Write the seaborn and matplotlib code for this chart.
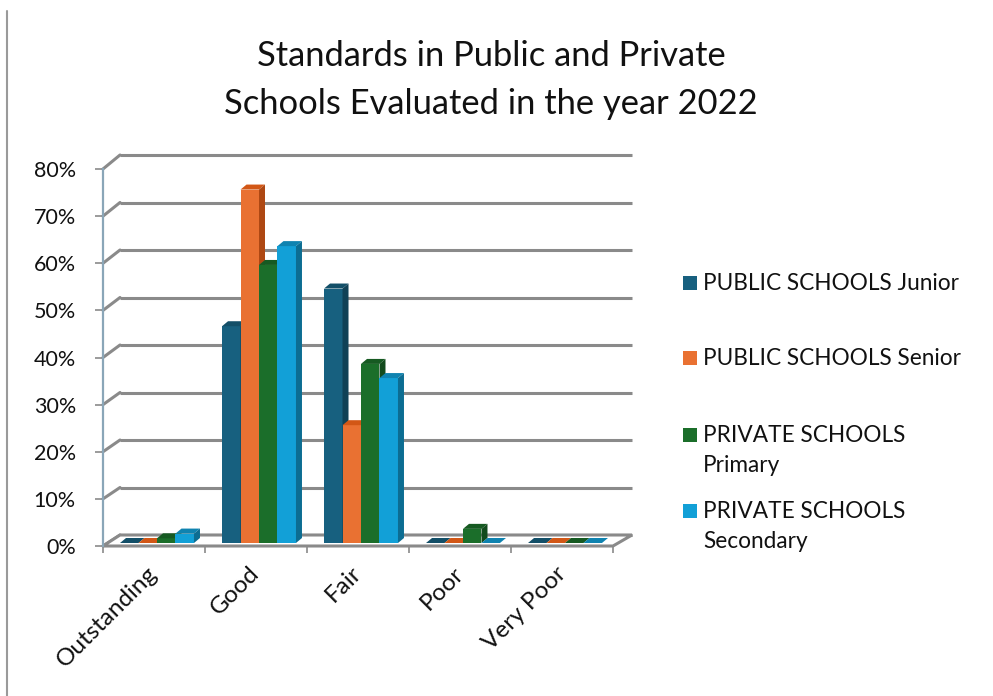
import colorsys

import matplotlib
matplotlib.use("Agg")
import matplotlib.pyplot as plt
import matplotlib.transforms as mtransforms
import numpy as np
import pandas as pd
import seaborn as sns
from matplotlib.colors import to_rgb
from matplotlib.lines import Line2D
from matplotlib.patches import ConnectionPatch, Polygon, Rectangle

# ---- data -----------------------------------------------------------------
categories = ["Outstanding", "Good", "Fair", "Poor", "Very Poor"]
series_names = [
    "PUBLIC SCHOOLS Junior",
    "PUBLIC SCHOOLS Senior",
    "PRIVATE SCHOOLS Primary",
    "PRIVATE SCHOOLS Secondary",
]
legend_labels = [
    "PUBLIC SCHOOLS Junior",
    "PUBLIC SCHOOLS Senior",
    "PRIVATE SCHOOLS\nPrimary",
    "PRIVATE SCHOOLS\nSecondary",
]
public_junior = [0, 46, 54, 0, 0]
public_senior = [0, 75, 25, 0, 0]
private_primary = [1, 59, 38, 3, 0]
private_secondary = [2, 63, 35, 0, 0]
y_ticks = [0, 10, 20, 30, 40, 50, 60, 70, 80]
title = "Standards in Public and Private\nSchools Evaluated in the year 2022"

palette = ["#17607f", "#e97132", "#1b6e2a", "#12a0d7"]

df = pd.DataFrame({
    "category": categories * 4,
    "series": np.repeat(series_names, len(categories)),
    "value": public_junior + public_senior + private_primary + private_secondary,
})

# ---- figure setup -----------------------------------------------------------
sns.set_theme(style="white")
plt.rcParams["font.family"] = ["Lato", "DejaVu Sans"]

W, H, DPI = 993, 696, 100
fig = plt.figure(figsize=(W / DPI, H / DPI), dpi=DPI)
fig.patch.set_facecolor("white")

GRID = "#8a8a8a"
TXT = "#111111"


def box(left, right, bottom, top):
    """Axes rectangle from pixel edges measured from the top-left corner."""
    return [left / W, 1 - bottom / H, (right - left) / W, (bottom - top) / H]


def shade(color, factor):
    h, l, s = colorsys.rgb_to_hls(*to_rgb(color))
    return colorsys.hls_to_rgb(h, max(0, l * factor), s)


# back wall (depth plane) and front plane share the same value scale
ax_back = fig.add_axes(box(120, 632, 535, 155), zorder=0)
ax = fig.add_axes(box(103, 613, 546, 169), zorder=1)
for a in (ax_back, ax):
    a.set_xlim(-0.5, len(categories) - 0.5)
    a.set_ylim(0, 80)
ax_back.axis("off")
ax.patch.set_alpha(0)

# horizontal gridlines on the back wall
for v in y_ticks:
    ax_back.plot([-0.5, len(categories) - 0.5], [v, v], color=GRID, lw=2.2,
                 solid_capstyle="butt", clip_on=False)
    # diagonal along the side wall, from the front axis to the back wall
    con = ConnectionPatch(xyA=(-0.5, v), coordsA=ax.transData,
                          xyB=(-0.5, v), coordsB=ax_back.transData,
                          color=GRID, lw=2.2, zorder=0.5)
    fig.add_artist(con)

# floor
fig.canvas.draw()
x_lo, x_hi = -0.5, len(categories) - 0.5
floor_pts = np.vstack([
    ax.transData.transform([(x_lo, 0), (x_hi, 0)]),
    ax_back.transData.transform([(x_hi, 0), (x_lo, 0)]),
])
floor = Polygon(floor_pts, closed=True, facecolor="white", edgecolor=GRID,
                lw=2.2, transform=mtransforms.IdentityTransform(), zorder=0.6)
fig.add_artist(floor)

# ---- bars ---------------------------------------------------------------------
sns.barplot(data=df, x="category", y="value", hue="series", order=categories,
            hue_order=series_names, palette=palette, width=0.725, gap=0,
            saturation=1, legend=False, ax=ax, edgecolor="none", linewidth=0)

DEPTH_X, DEPTH_Y = 6, 5     # depth of each bar, pixels
SHIFT_X, SHIFT_Y = 3, 3     # bars stand midway between front and back plane
shift = mtransforms.ScaledTranslation(SHIFT_X / DPI, SHIFT_Y / DPI, fig.dpi_scale_trans)

bars = sorted(ax.patches, key=lambda p: p.get_x())
ident = mtransforms.IdentityTransform()
for i, bar in enumerate(bars):
    bar.set_transform(ax.transData + shift)
    base = bar.get_facecolor()
    z = 2 + i * 0.01
    bar.set_zorder(z)
    (x0, y0), (x1, y1) = (ax.transData + shift).transform(
        [(bar.get_x(), bar.get_y()), (bar.get_x() + bar.get_width(), bar.get_y() + bar.get_height())])
    top = Polygon([(x0, y1), (x1, y1), (x1 + DEPTH_X, y1 + DEPTH_Y), (x0 + DEPTH_X, y1 + DEPTH_Y)],
                  closed=True, facecolor=shade(base, 0.82), edgecolor="none",
                  transform=ident, zorder=z + 0.001, clip_on=False)
    side = Polygon([(x1, y0), (x1 + DEPTH_X, y0 + DEPTH_Y), (x1 + DEPTH_X, y1 + DEPTH_Y), (x1, y1)],
                   closed=True, facecolor=shade(base, 0.68), edgecolor="none",
                   transform=ident, zorder=z + 0.002, clip_on=False)
    ax.add_patch(top)
    ax.add_patch(side)

# ---- axes styling -----------------------------------------------------------
for name in ("top", "right", "bottom"):
    ax.spines[name].set_visible(False)
ax.spines["left"].set_color("#8aa6b8")
ax.spines["left"].set_linewidth(1.6)

ax.set_yticks(y_ticks, [f"{v}%" for v in y_ticks])
ax.tick_params(axis="y", length=6, width=1.2, color=GRID, pad=13.5,
               labelsize=15.5, labelcolor=TXT, left=True)

ax.set_xticks(np.arange(len(categories)) - 0.07, categories)
ax.set_xticks(np.arange(len(categories) + 1) - 0.5, minor=True)
ax.tick_params(axis="x", which="major", length=0, pad=12, labelsize=17.5, labelcolor=TXT)
ax.tick_params(axis="x", which="minor", length=5, width=1.2, color=GRID, bottom=True)
for lbl in ax.get_xticklabels():
    lbl.set_rotation(45)
    lbl.set_ha("right")
    lbl.set_va("top")
    lbl.set_rotation_mode("anchor")
ax.set_xlabel("")
ax.set_ylabel("")

# ---- title ---------------------------------------------------------------------
fig.text(491 / W, 1 - 80 / H, title, ha="center", va="center", fontsize=24.8,
         color=TXT, linespacing=1.6)

# ---- legend ------------------------------------------------------------------
entry_y = [283, 358, 435, 511]
for color, label, yc in zip(palette, legend_labels, entry_y):
    fig.add_artist(Rectangle((683 / W, 1 - (yc + 7) / H), 14 / W, 14 / H,
                             transform=fig.transFigure, facecolor=color, edgecolor="none"))
    fig.text(703 / W, 1 - (yc - 10) / H, label, ha="left", va="top", fontsize=16.3,
             color=TXT, linespacing=1.5)

# left border of the chart frame
fig.add_artist(Line2D([7 / W, 7 / W], [0, 1 - 11 / H], transform=fig.transFigure,
                      color="#9a9a9a", lw=1.5))

fig.savefig("out.png", dpi=DPI, facecolor="white")
